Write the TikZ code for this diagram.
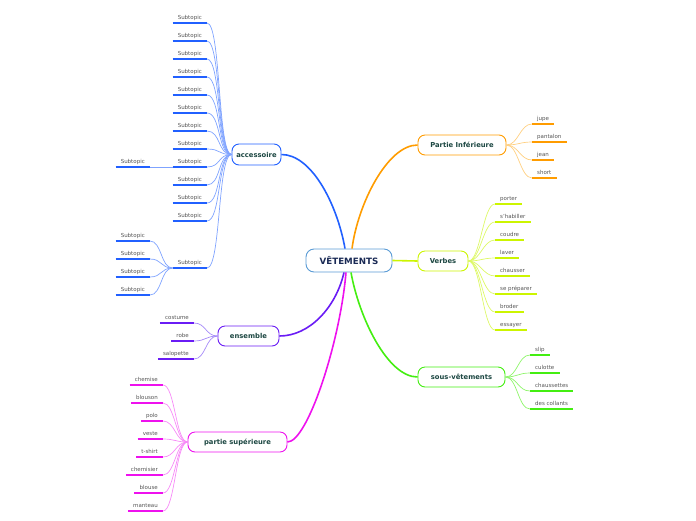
\documentclass[tikz,border=0pt]{standalone}
\usepackage{fontspec}
\setmainfont{DejaVu Sans}
\definecolor{cen}{HTML}{5A9BD5}
\definecolor{cent}{HTML}{1A2A55}
\definecolor{maintext}{HTML}{1C4742}
\definecolor{subtext}{HTML}{555555}
\definecolor{acc}{HTML}{2160FF}
\definecolor{accl}{HTML}{7FA3FF}
\definecolor{inf}{HTML}{FF9C00}
\definecolor{infl}{HTML}{FFCF80}
\definecolor{verb}{HTML}{CCF500}
\definecolor{verbl}{HTML}{DDF866}
\definecolor{sous}{HTML}{44EE11}
\definecolor{sousl}{HTML}{8EF56A}
\definecolor{ens}{HTML}{6A1CF5}
\definecolor{ensl}{HTML}{A58AF8}
\definecolor{sup}{HTML}{EE11EE}
\definecolor{supl}{HTML}{F78AF7}
\tikzset{
  topic/.style={draw=#1, line width=0.9pt, rounded corners=7pt, fill=white,
    font=\bfseries\fontsize{6.8}{8}\selectfont, text=maintext, inner sep=0pt},
  sub/.style={font=\fontsize{5.5}{6}\selectfont, text=subtext, inner xsep=5pt,
    inner ysep=2pt, text depth=1.3pt, text height=4.2pt},
  ul/.style={line width=1.2pt, draw=#1},
  trunk/.style={line width=1.6pt, draw=#1},
  twig/.style={line width=0.7pt, draw=#1},
}
\begin{document}
\begin{tikzpicture}[x=1pt,y=-1pt]
\useasboundingbox (0,0) rectangle (696,520);

% centre
\node[draw=cen, line width=0.9pt, rounded corners=8pt, fill=white,
  font=\bfseries\fontsize{8.7}{10}\selectfont, text=cent,
  minimum width=86pt, minimum height=23pt, inner sep=0pt] (c) at (349,260.5) {VÊTEMENTS};

% main topics
\node[topic=inf, minimum width=88pt, minimum height=20pt] (inf) at (462,145) {Partie Inférieure};
\node[topic=verb, minimum width=50pt, minimum height=20pt] (verb) at (443,261) {Verbes};
\node[topic=sous, minimum width=87pt, minimum height=20pt] (sous) at (461.5,377) {sous-vêtements};
\node[topic=acc, minimum width=49pt, minimum height=21pt] (acc) at (256.5,154.5) {accessoire};
\node[topic=ens, minimum width=61pt, minimum height=20pt] (ens) at (248.5,336) {ensemble};
\node[topic=sup, minimum width=99pt, minimum height=20pt] (sup) at (237.5,442) {partie supérieure};

% trunks
\draw[trunk=acc] ([xshift=-4pt]c.north) .. controls +(-8,-45) and +(30,0) .. (acc.east);
\draw[trunk=inf] ([xshift=3pt]c.north) .. controls +(6,-45) and +(-30,0) .. (inf.west);
\draw[trunk=verb] (c.east) -- (verb.west);
\draw[trunk=ens] ([xshift=-5pt]c.south) .. controls +(-8,35) and +(30,0) .. (ens.east);
\draw[trunk=sup] ([xshift=-3pt]c.south) .. controls +(-6,70) and +(20,0) .. (sup.east);
\draw[trunk=sous] ([xshift=2pt]c.south) .. controls +(8,45) and +(-30,0) .. (sous.west);

% Partie Inferieure
\foreach \n/\y/\t in {1/124/jupe, 2/142/pantalon, 3/160/jean, 4/178/short} {
  \node[sub, anchor=south west] (inf\n) at (532,\y) {\t};
  \draw[twig=infl] (inf.east) .. controls +(12,0) and +(-12,0) .. (inf\n.south west);
  \draw[ul=inf] (inf\n.south west) -- (inf\n.south east);
}

% Verbes
\foreach \n/\y/\t in {1/204/porter, 2/222/s'habiller, 3/240/coudre, 4/258/laver,
  5/276/chausser, 6/294/se préparer, 7/312/broder, 8/330/essayer} {
  \node[sub, anchor=south west] (verb\n) at (495,\y) {\t};
  \draw[twig=verbl] (verb.east) .. controls +(12,0) and +(-12,0) .. (verb\n.south west);
  \draw[ul=verb] (verb\n.south west) -- (verb\n.south east);
}

% sous-vetements
\foreach \n/\y/\t in {1/355/slip, 2/373/culotte, 3/391/chaussettes, 4/409/des collants} {
  \node[sub, anchor=south west] (sous\n) at (530,\y) {\t};
  \draw[twig=sousl] (sous.east) .. controls +(12,0) and +(-12,0) .. (sous\n.south west);
  \draw[ul=sous] (sous\n.south west) -- (sous\n.south east);
}

% accessoire
\foreach \k in {0,...,11} {
  \node[sub, anchor=south east] (acc\k) at (207,{23+18*\k}) {Subtopic};
  \draw[twig=accl] (acc.west) .. controls +(-14,0) and +(14,0) .. (acc\k.south east);
  \draw[ul=acc] (acc\k.south west) -- (acc\k.south east);
}
\node[sub, anchor=south east] (acc12) at (207,268) {Subtopic};
\draw[twig=accl] (acc.west) .. controls +(-14,0) and +(14,0) .. (acc12.south east);
\draw[ul=acc] (acc12.south west) -- (acc12.south east);

\node[sub, anchor=south east] (acc8a) at (150,167) {Subtopic};
\draw[twig=accl] (acc8.south west) -- (acc8a.south east);
\draw[ul=acc] (acc8a.south west) -- (acc8a.south east);

\foreach \n/\y in {1/241, 2/259, 3/277, 4/295} {
  \node[sub, anchor=south east] (acc12\n) at (150,\y) {Subtopic};
  \draw[twig=accl] (acc12.south west) .. controls +(-12,0) and +(12,0) .. (acc12\n.south east);
  \draw[ul=acc] (acc12\n.south west) -- (acc12\n.south east);
}

% ensemble
\foreach \n/\y/\t in {1/323/costume, 2/341/robe, 3/359/salopette} {
  \node[sub, anchor=south east] (ens\n) at (194,\y) {\t};
  \draw[twig=ensl] (ens.west) .. controls +(-12,0) and +(12,0) .. (ens\n.south east);
  \draw[ul=ens] (ens\n.south west) -- (ens\n.south east);
}

% partie superieure
\foreach \n/\y/\t in {1/385/chemise, 2/403/blouson, 3/421/polo, 4/439/veste,
  5/457/t-shirt, 6/475/chemisier, 7/493/blouse, 8/511/manteau} {
  \node[sub, anchor=south east] (sup\n) at (163,\y) {\t};
  \draw[twig=supl] (sup.west) .. controls +(-12,0) and +(12,0) .. (sup\n.south east);
  \draw[ul=sup] (sup\n.south west) -- (sup\n.south east);
}
\end{tikzpicture}
\end{document}
